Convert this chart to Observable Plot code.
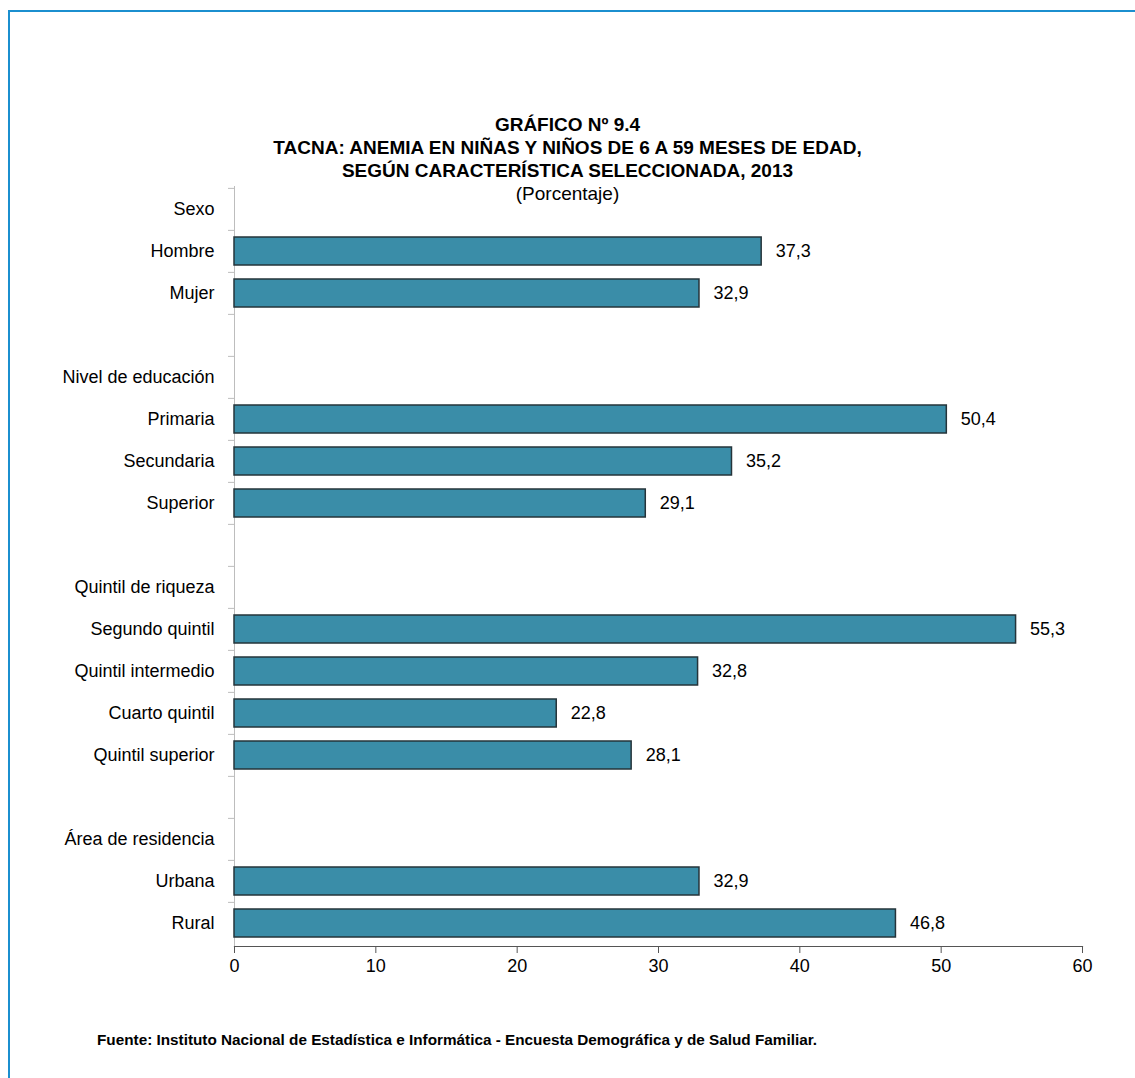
<!DOCTYPE html>
<html><head><meta charset="utf-8">
<script src="https://cdn.jsdelivr.net/npm/d3@7"></script>
<script src="https://cdn.jsdelivr.net/npm/@observablehq/plot@0.6"></script>
<style>
body{margin:0;background:#fff;overflow:hidden}
#wrap{position:relative;width:1135px;height:1078px;overflow:hidden;font-family:"Liberation Sans Narrow","Arial Narrow","Liberation Sans",Arial,sans-serif;color:#000;background:#fff}
#ftop{position:absolute;left:8px;top:10px;width:1140px;height:2px;background:#1b8fcf}
#fleft{position:absolute;left:8px;top:10px;width:2px;height:1100px;background:#1b8fcf}
#title{position:absolute;left:0;width:1135px;top:113px;text-align:center;padding-left:0;box-sizing:border-box}
#title div{line-height:23px;font-size:19px}
#title .b{font-weight:bold}
#chart{position:absolute;left:0;top:180px}
#foot{position:absolute;left:97px;top:1031px;font-size:15.3px;font-weight:bold}
</style></head><body>
<div id="wrap">
<div id="ftop"></div><div id="fleft"></div>
<div id="title">
<div class="b">GRÁFICO Nº 9.4</div>
<div class="b">TACNA: ANEMIA EN NIÑAS Y NIÑOS DE 6 A 59 MESES DE EDAD,</div>
<div class="b">SEGÚN CARACTERÍSTICA SELECCIONADA, 2013</div>
<div>(Porcentaje)</div>
</div>
<div id="chart"></div>
<div id="foot">Fuente: Instituto Nacional de Estadística e Informática - Encuesta Demográfica y de Salud Familiar.</div>
</div>
<script>
const categories = ["Sexo","Hombre","Mujer"," ","Nivel de educación","Primaria","Secundaria","Superior","  ","Quintil de riqueza","Segundo quintil","Quintil intermedio","Cuarto quintil","Quintil superior","   ","Área de residencia","Urbana","Rural"];
const barLabels = ["Hombre","Mujer","Primaria","Secundaria","Superior","Segundo quintil","Quintil intermedio","Cuarto quintil","Quintil superior","Urbana","Rural"];
const values = [37.3,32.9,50.4,35.2,29.1,55.3,32.8,22.8,28.1,32.9,46.8];
const xTicks = [0,10,20,30,40,50,60];

const data = barLabels.map((label,i)=>({label, value: values[i]}));
const W=1135, H=810, mt=6, mb=44, ml=234, mr=53;
const bw=(H-mt-mb)/categories.length;
const font='"Liberation Sans Narrow","Arial Narrow","Liberation Sans",Arial,sans-serif';

const chart = Plot.plot({
  width:W, height:H, marginTop:mt, marginBottom:mb, marginLeft:ml, marginRight:mr,
  style:{background:"transparent", fontFamily:font, fontSize:"18px", color:"#000"},
  x:{domain:[0,60]},
  y:{domain:categories, padding:0},
  marks:[
    Plot.ruleX([0],{stroke:"#bdbdbd", strokeWidth:1}),
    Plot.axisY({tickSize:6, dy:-bw/2, tickFormat:()=>"", stroke:"#bdbdbd", label:null}),
    Plot.axisY({tickSize:0, tickPadding:20, fontSize:18, fill:"#000", label:null}),
    Plot.barX(data,{x:"value", y:"label", fill:"#3a8da8", stroke:"#25343a", strokeWidth:1.5, insetTop:7, insetBottom:7}),
    Plot.text(data,{x:"value", y:"label", text:d=>d.value.toFixed(1).replace(".",","), textAnchor:"start", dx:14, fontSize:18, fill:"#000"}),
    Plot.frame({anchor:"bottom", stroke:"#555", strokeWidth:1.2}),
    Plot.axisX({ticks:xTicks, tickSize:7, tickPadding:6, stroke:"#555", fontSize:18, fill:"#000", label:null})
  ]
});
document.getElementById("chart").appendChild(chart);
</script>
</body></html>
